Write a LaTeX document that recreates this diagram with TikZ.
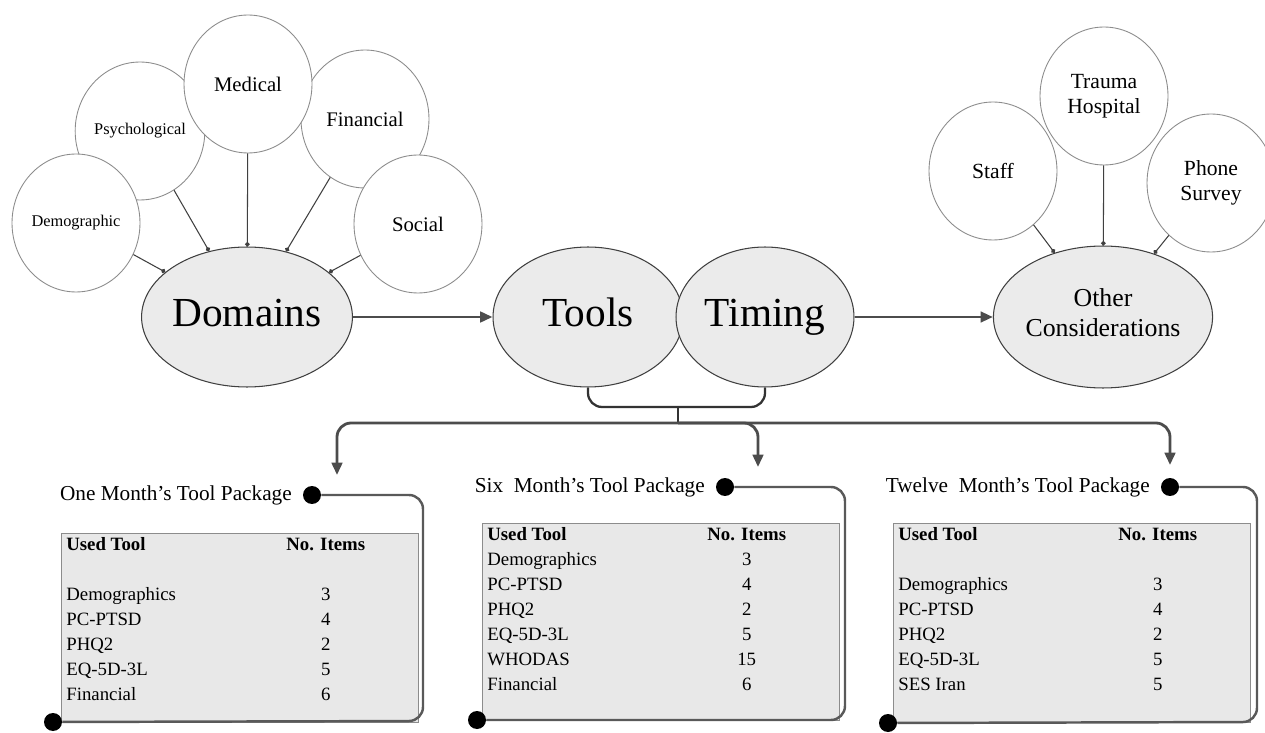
\documentclass[tikz,border=0pt]{standalone}
\usepackage{fontspec}
\setmainfont{Liberation Serif}
\usetikzlibrary{arrows.meta,shapes.geometric,positioning}

\tikzset{
  bigoval/.style={ellipse, draw=black!75, line width=0.6pt, fill=black!8, inner sep=0,
    minimum width=3.88cm, minimum height=2.8cm, align=center, font=\fontsize{23.5}{26}\selectfont,
    execute at begin node=\strut},
  leaf/.style={ellipse, draw=black!45, line width=0.5pt, fill=white, inner sep=0,
    minimum width=2.56cm, minimum height=2.76cm, align=center, font=\fontsize{11.8}{14}\selectfont},
  leafline/.style={draw=black!75, line width=0.6pt, -{Circle[length=2.6pt]}},
  flowarrow/.style={draw=black!70, line width=1.6pt, rounded corners=8pt, -{Triangle[length=7pt,width=6pt]}},
  pkgline/.style={draw=black!65, line width=1.4pt, rounded corners=8pt},
  pkgdot/.style={circle, fill=black, inner sep=0, minimum size=0.36cm},
  pkgtitle/.style={inner sep=0, font=\fontsize{12.1}{14}\selectfont},
  pkgbox/.style={draw=black!45, fill=black!9, line width=0.5pt, inner sep=0, anchor=north west,
    minimum width=7.14cm, minimum height=3.78cm},
  pkgtab/.style={inner sep=0, anchor=north west, font=\fontsize{10.7}{14.2}\selectfont},
}

\begin{document}
\begin{tikzpicture}[x=0.02cm, y=-0.02cm]
  \useasboundingbox (0,0) rectangle (1265,733);

  \node[bigoval] (dom) at (247,317) {Domains};
  \node[bigoval, minimum width=3.8cm] (tools) at (588,317) {Tools};
  \node[bigoval, minimum width=3.56cm] (timing) at (765,317) {Timing};
  \node[bigoval, minimum height=2.84cm, font=\fontsize{14.7}{17}\selectfont] (other) at (1103,317) {Other\\Considerations};

  \node[leaf, font=\fontsize{9.3}{11}\selectfont] (psych) at (140,131) {Psychological};
  \node[leaf] (fin) at (365,119) {Financial};
  \node[leaf, font=\fontsize{9.3}{11}\selectfont] (demo) at (76,223) {Demographic};
  \node[leaf] (med) at (248,84) {Medical};
  \node[leaf] (soc) at (418,224) {Social};
  \draw[leafline] (demo) -- (dom);
  \draw[leafline] (psych) -- (dom);
  \draw[leafline] (med) -- (dom);
  \draw[leafline] (fin) -- (dom);
  \draw[leafline] (soc) -- (dom);

  \node[leaf, font=\fontsize{12.3}{14.5}\selectfont] (trauma) at (1104,96) {Trauma\\Hospital};
  \node[leaf, font=\fontsize{12.3}{14.5}\selectfont] (staff) at (993,171) {Staff};
  \node[leaf, font=\fontsize{12.3}{14.5}\selectfont] (phone) at (1211,183) {Phone\\Survey};
  \draw[leafline] (staff) -- (other);
  \draw[leafline] (trauma) -- (other);
  \draw[leafline] (phone) -- (other);

  \draw[flowarrow] (dom) -- (tools);
  \draw[flowarrow] (timing) -- (other);

  \coordinate (brc) at (678,407);
  \coordinate (hub) at (678,423);
  \draw[pkgline, line width=1.3pt, draw=black!80] (tools.south) |- (brc) -| (timing.south);
  \draw[pkgline, line width=1.3pt, draw=black!80] (brc) -- (hub);
  \coordinate (in1) at (337,475);
  \coordinate (in2) at (758,467);
  \coordinate (in3) at (1170,465);
  \draw[flowarrow] (hub) -| (in1);
  \draw[flowarrow] (hub) -| (in2);
  \draw[flowarrow] (hub) -| (in3);

  \node[pkgbox] (b1) at (61,533) {};
  \node[pkgdot] (d1) at (312,495) {};
  \node[pkgdot] (e1) at (53,722) {};
  \node[pkgtitle, left=6pt of d1] (p1) {One Month's Tool Package};
  \coordinate (c1) at (423,721);
  \draw[pkgline] (d1) -| (c1) -- (e1);
  \node[pkgtab] (t1) at (66,533) {\begin{tabular}{@{}p{4.4cm}@{}c@{}}
    \textbf{Used Tool} & \textbf{No. Items}\\
    & \\
    Demographics & 3\\
    PC-PTSD & 4\\
    PHQ2 & 2\\
    EQ-5D-3L & 5\\
    Financial & 6
  \end{tabular}};

  \node[pkgbox, minimum height=3.94cm] (b2) at (482,523) {};
  \node[pkgdot] (d2) at (725,487) {};
  \node[pkgdot] (e2) at (477,720) {};
  \node[pkgtitle, left=6pt of d2] (p2) {Six \ Month's Tool Package};
  \coordinate (c2) at (845,720);
  \draw[pkgline] (d2) -| (c2) -- (e2);
  \node[pkgtab] (t2) at (487,523) {\begin{tabular}{@{}p{4.4cm}@{}c@{}}
    \textbf{Used Tool} & \textbf{No. Items}\\
    Demographics & 3\\
    PC-PTSD & 4\\
    PHQ2 & 2\\
    EQ-5D-3L & 5\\
    WHODAS & 15\\
    Financial & 6
  \end{tabular}};

  \node[pkgbox, minimum height=3.98cm] (b3) at (893,523) {};
  \node[pkgdot] (d3) at (1170,487) {};
  \node[pkgdot] (e3) at (888,723) {};
  \node[pkgtitle, left=6pt of d3] (p3) {Twelve \ Month's Tool Package};
  \coordinate (c3) at (1257,722);
  \draw[pkgline] (d3) -| (c3) -- (e3);
  \node[pkgtab] (t3) at (898,523) {\begin{tabular}{@{}p{4.4cm}@{}c@{}}
    \textbf{Used Tool} & \textbf{No. Items}\\
    & \\
    Demographics & 3\\
    PC-PTSD & 4\\
    PHQ2 & 2\\
    EQ-5D-3L & 5\\
    SES Iran & 5
  \end{tabular}};
\end{tikzpicture}
\end{document}
